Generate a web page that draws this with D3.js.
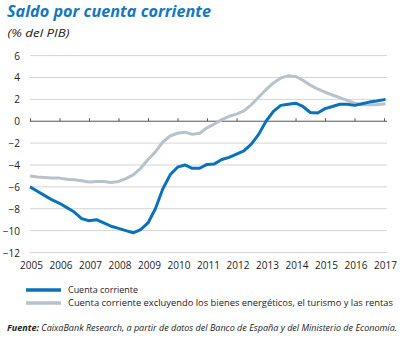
<!DOCTYPE html>
<html><head><meta charset="utf-8">
<script src="https://cdn.jsdelivr.net/npm/d3@7"></script>
<style>body{margin:0;background:#fff}svg{display:block}</style>
</head><body>
<svg id="c" width="403" height="338"></svg>
<script>
const periods = [2005,2005.25,2005.5,2005.75,2006,2006.25,2006.5,2006.75,2007,2007.25,2007.5,2007.75,2008,2008.25,2008.5,2008.75,2009,2009.25,2009.5,2009.75,2010,2010.25,2010.5,2010.75,2011,2011.25,2011.5,2011.75,2012,2012.25,2012.5,2012.75,2013,2013.25,2013.5,2013.75,2014,2014.25,2014.5,2014.75,2015,2015.25,2015.5,2015.75,2016,2016.25,2016.5,2016.75,2017.05];
const cuentaCorriente = [-6.0,-6.4,-6.8,-7.2,-7.5,-7.9,-8.3,-8.9,-9.1,-9.0,-9.3,-9.6,-9.8,-10.0,-10.2,-9.9,-9.3,-8.0,-6.2,-4.9,-4.2,-4.0,-4.3,-4.3,-3.95,-3.9,-3.5,-3.3,-3.0,-2.7,-2.1,-1.2,0.0,0.9,1.45,1.55,1.65,1.35,0.8,0.75,1.15,1.35,1.55,1.55,1.45,1.6,1.75,1.85,2.0];
const cuentaExcl = [-5.0,-5.1,-5.15,-5.2,-5.2,-5.3,-5.35,-5.45,-5.55,-5.5,-5.5,-5.6,-5.5,-5.25,-4.9,-4.3,-3.5,-2.8,-1.9,-1.35,-1.1,-1.0,-1.2,-1.1,-0.6,-0.25,0.15,0.45,0.65,0.95,1.5,2.2,2.9,3.5,3.95,4.15,4.1,3.75,3.3,2.95,2.65,2.4,2.15,1.9,1.65,1.5,1.5,1.5,1.6];
const yearTicks = [2005,2006,2007,2008,2009,2010,2011,2012,2013,2014,2015,2016,2017];
const yTicks = [6,4,2,0,-2,-4,-6,-8,-10,-12];
const seriesNames = ["Cuenta corriente","Cuenta corriente excluyendo los bienes energéticos, el turismo y las rentas"];

const BLUE = "#0a72b9", GRAY = "#b8c2c8";
const svg = d3.select("#c");
const x = d3.scaleLinear().domain([2005, 2017.1]).range([30, 387]);
const y = d3.scaleLinear().domain([-12, 6]).range([252.5, 55.6]);
const F = "'Open Sans', sans-serif";

// fit a text to a target width: shrink font if natural width is larger, then set textLength
function fit(sel, target, maxSize){
  sel.attr("font-size", maxSize);
  const len = sel.node().getComputedTextLength();
  const size = len > target ? maxSize * target / len : maxSize;
  sel.attr("font-size", size);
  const len2 = sel.node().getComputedTextLength();
  if (len2 < target) sel.attr("textLength", target).attr("lengthAdjust","spacingAndGlyphs");
  return sel;
}

// title
fit(svg.append("text").attr("x",7).attr("y",17).attr("font-family",F).attr("font-weight","bold")
  .attr("font-style","italic").attr("fill","#1777bd").text("Saldo por cuenta corriente"), 204, 15.5);
fit(svg.append("text").attr("x",7.5).attr("y",37).attr("font-family",F).attr("font-style","italic")
  .attr("fill","#222").text("(% del PIB)"), 62, 11);

// grid
svg.append("g").selectAll("line").data(yTicks.filter(d=>d!==0)).join("line")
  .attr("x1",30).attr("x2",387).attr("y1",d=>y(d)).attr("y2",d=>y(d))
  .attr("stroke","#d4d4d4").attr("stroke-width",1);
// y labels
const yAxis = d3.axisLeft(y).tickValues(yTicks).tickSize(0).tickPadding(0).tickFormat(d3.format("d"));
const ya = svg.append("g").attr("transform","translate(20,0)").call(yAxis);
ya.select(".domain").remove();
ya.selectAll("text").attr("font-family",F).attr("font-size",10).attr("fill","#222").attr("dy","0.35em");

// zero line with ticks
const xAxis = d3.axisTop(x).tickValues(yearTicks).tickSize(3).tickSizeOuter(0).tickFormat("");
const za = svg.append("g").attr("transform",`translate(0,${y(0)})`).call(xAxis);
za.select(".domain").attr("d",`M${x(2005)},0H387`).attr("stroke","#555");
za.selectAll(".tick line").attr("stroke","#555");

// year labels
const xl = d3.axisBottom(x).tickValues(yearTicks).tickSize(0).tickPadding(0).tickFormat(d3.format("d"));
const xa = svg.append("g").attr("transform","translate(1,262)").call(xl);
xa.select(".domain").remove();
xa.selectAll("text").attr("font-family",F).attr("font-size",10).attr("fill","#222").attr("dy","0.71em");

// lines
const line = d3.line().x((d,i)=>x(periods[i])).y(d=>y(d));
svg.append("path").datum(cuentaExcl).attr("d",line).attr("fill","none").attr("stroke",GRAY).attr("stroke-width",3).attr("stroke-linejoin","round");
svg.append("path").datum(cuentaCorriente).attr("d",line).attr("fill","none").attr("stroke",BLUE).attr("stroke-width",3).attr("stroke-linejoin","round");

// legend
const leg = [{c:BLUE,y:290,ty:292.5,w:70},{c:GRAY,y:303,ty:306,w:325}];
leg.forEach((l,i)=>{
  svg.append("line").attr("x1",26).attr("x2",61).attr("y1",l.y).attr("y2",l.y).attr("stroke",l.c).attr("stroke-width",3.5);
  fit(svg.append("text").attr("x",68).attr("y",l.ty).attr("font-family",F).attr("fill","#222").text(seriesNames[i]), l.w, 10);
});

// source
const src = svg.append("text").attr("x",7).attr("y",331).attr("font-family",F)
  .attr("font-style","italic").attr("fill","#222");
src.append("tspan").attr("font-weight","bold").text("Fuente:");
src.append("tspan").text(" CaixaBank Research, a partir de datos del Banco de España y del Ministerio de Economía.");
fit(src, 390, 10);
</script>
</body></html>
